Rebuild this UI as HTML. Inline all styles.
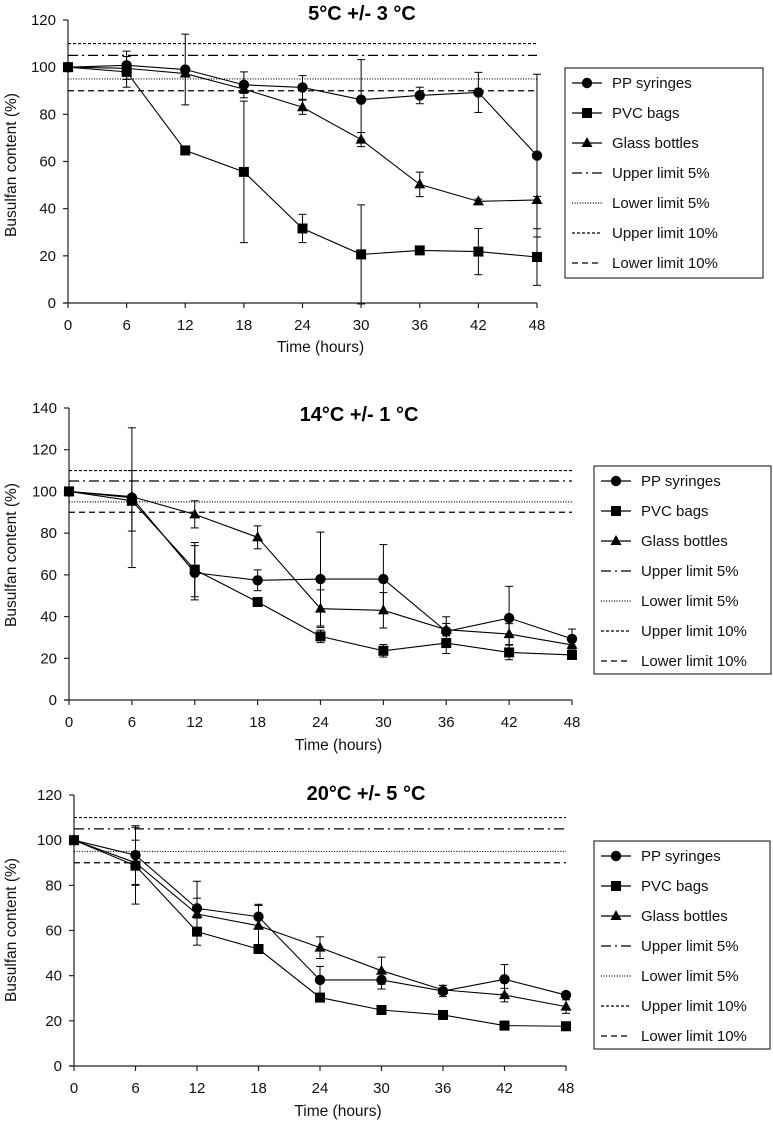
<!DOCTYPE html>
<html><head><meta charset="utf-8"><style>
html,body{margin:0;padding:0;background:#fff;}
svg{display:block;font-family:"Liberation Sans",sans-serif;}
</style></head><body>
<svg id="fig" width="773" height="1121" viewBox="0 0 773 1121" xmlns="http://www.w3.org/2000/svg"></svg>
<script>
const hours = [0,6,12,18,24,30,36,42,48];
const seriesNames = ["PP syringes","PVC bags","Glass bottles"];
const limitNames = ["Upper limit 5%","Lower limit 5%","Upper limit 10%","Lower limit 10%"];
const limitValues = [105,95,110,90];
const titles = ["5°C +/- 3 °C","14°C +/- 1 °C","20°C +/- 5 °C"];
const yMaxes = [120,140,120];

const c1PP = [100,100.8,99,92.5,91.4,86.2,88,89.3,62.5];
const c1PPErr = [0,6,15,5.5,5,17,3.5,8.5,34.5];
const c1PVC = [100,98,64.7,55.6,31.6,20.6,22.3,21.8,19.5];
const c1PVCErr = [0,6.5,0.8,30,6,21,0.8,9.8,12];
const c1Glass = [100,99.5,97.3,90.7,83,69.3,50.3,43.1,43.7];
const c1GlassErr = [0,1.5,1,1.8,3,3,5.2,1,1.5];

const c2PP = [100,97,61,57.4,58,58,32.9,39.3,29.3];
const c2PPErr = [0,33.5,13,5,22.5,16.5,7,15.2,4.7];
const c2PVC = [100,95.5,62.5,47,30.5,23.6,27.3,22.8,21.6];
const c2PVCErr = [0,14.5,13,1,3,3,5,3.5,1];
const c2Glass = [100,97.5,89,78,43.8,43,33.7,31.6,26.4];
const c2GlassErr = [0,1,6.5,5.5,9,8.5,3,5,2];

const c3PP = [100,93.4,69.8,66.1,38.1,38.1,33.2,38.4,31.4];
const c3PPErr = [0,13,12,5.5,6,4,2.5,6.5,1];
const c3PVC = [100,88.7,59.5,51.8,30.3,24.8,22.6,17.9,17.6];
const c3PVCErr = [0,17,6,1,1,1,1,1,1];
const c3Glass = [100,90,67.3,62.1,52.4,42.2,33.7,31.4,26.3];
const c3GlassErr = [0,10,7,9,4.8,6,2,3,3];

const SVGNS="http://www.w3.org/2000/svg";
const svg=document.getElementById('fig');
function mk(tag,attrs,parent){const e=document.createElementNS(SVGNS,tag);for(const k in attrs)e.setAttribute(k,attrs[k]);(parent||svg).appendChild(e);return e;}

const layouts=[
 {x0:68,x48:537,y0:303,yTop:20,tx:362,ty:20,timeY:352,ylx:11,yly:165,lg:[565,68,198,210]},
 {x0:69,x48:572,y0:700,yTop:408,tx:359,ty:421,timeY:750,ylx:11,yly:555,lg:[594,466,177,208]},
 {x0:74,x48:566,y0:1066,yTop:795,tx:366,ty:800,timeY:1116,ylx:11,yly:930,lg:[594,841,176,208]}
];
const data=[[c1PP,c1PVC,c1Glass],[c2PP,c2PVC,c2Glass],[c3PP,c3PVC,c3Glass]];
const errs=[[c1PPErr,c1PVCErr,c1GlassErr],[c2PPErr,c2PVCErr,c2GlassErr],[c3PPErr,c3PVCErr,c3GlassErr]];
const dashes=["10,4,2,4","1,1.6","3,2","6,4"];
const mShapes=["circle","square","triangle"];

function marker(g,shape,x,y){
 let e;
 if(shape==="circle") e=mk('circle',{cx:x,cy:y,r:5.2,fill:'#000'},g);
 else if(shape==="square") e=mk('rect',{x:x-5,y:y-5,width:10,height:10,fill:'#000'},g);
 else e=mk('polygon',{points:`${x},${y-6} ${x+5.5},${y+4} ${x-5.5},${y+4}`,fill:'#000'},g);
 return e;
}

layouts.forEach((L,ci)=>{
 const g=mk('g',{});  
 const yMax=yMaxes[ci];
 const xs=h=>L.x0+(L.x48-L.x0)*h/48;
 const ys=v=>L.y0-(L.y0-L.yTop)*v/yMax;
 const t=mk('text',{x:L.tx,y:L.ty,'text-anchor':'middle','font-size':20,'font-weight':'bold'},g);
 t.textContent=titles[ci];  
 const ax=mk('g',{stroke:'#222','stroke-width':1.2},g);
  
 mk('line',{x1:L.x0,y1:L.y0,x2:L.x0,y2:L.yTop},ax);
 mk('line',{x1:L.x0-5,y1:L.y0,x2:L.x48,y2:L.y0},ax);
 for(let v=0;v<=yMax;v+=20){
  mk('line',{x1:L.x0-5,y1:ys(v),x2:L.x0,y2:ys(v)},ax);
  const tl=mk('text',{x:L.x0-12,y:ys(v)+5,'text-anchor':'end','font-size':15,fill:'#111'},g);
  tl.textContent=v;  
 }
 hours.forEach(h=>{
  mk('line',{x1:xs(h),y1:L.y0,x2:xs(h),y2:L.y0+5},ax);
  const tl=mk('text',{x:xs(h),y:L.y0+27,'text-anchor':'middle','font-size':15,fill:'#111'},g);
  tl.textContent=h;  
 });
 const xt=mk('text',{x:(L.x0+L.x48)/2+18,y:L.timeY,'text-anchor':'middle','font-size':15.5,fill:'#111'},g);
 xt.textContent='Time (hours)';  
 const yt=mk('text',{x:0,y:0,'text-anchor':'middle','font-size':15.5,fill:'#111',transform:`translate(${L.ylx+5},${L.yly}) rotate(-90)`},g);
 yt.textContent=ci===2?'Busulfan content (%)':'Busulfan content  (%)';  
 limitValues.forEach((v,i)=>{
  const l=mk('line',{x1:L.x0,y1:ys(v),x2:L.x48,y2:ys(v),stroke:'#000','stroke-width':1.2,'stroke-dasharray':dashes[i]},g);
   
 });
 data[ci].forEach((vals,si)=>{
  const sg=mk('g',{},g);  
  const pts=vals.map((v,i)=>xs(hours[i])+','+ys(v)).join(' ');
  mk('polyline',{points:pts,fill:'none',stroke:'#000','stroke-width':1.1},sg);
  vals.forEach((v,i)=>{
   const e=errs[ci][si][i];
   if(e>0){
    const x=xs(hours[i]),a=ys(v+e),b=ys(v-e);
    mk('line',{x1:x,y1:a,x2:x,y2:b,stroke:'#000','stroke-width':1},sg);
    mk('line',{x1:x-4,y1:a,x2:x+4,y2:a,stroke:'#000','stroke-width':1},sg);
    mk('line',{x1:x-4,y1:b,x2:x+4,y2:b,stroke:'#000','stroke-width':1},sg);
   }
   const m=marker(sg,mShapes[si],xs(hours[i]),ys(v));
    
  });
 });
 const [lx,ly,lw,lh]=L.lg;
 const lg=mk('g',{},g);  
 mk('rect',{x:lx,y:ly,width:lw,height:lh,fill:'#fff',stroke:'#333','stroke-width':1.2},lg);
 const names=seriesNames.concat(limitNames);
 names.forEach((n,i)=>{
  const yy=ly+15+i*30;
  const eg=mk('g',{},lg);  
  if(i<3){
   mk('line',{x1:lx+7,y1:yy,x2:lx+37,y2:yy,stroke:'#000','stroke-width':1.2},eg);
   marker(eg,mShapes[i],lx+22,yy);
  } else {
   mk('line',{x1:lx+7,y1:yy,x2:lx+37,y2:yy,stroke:'#000','stroke-width':1.2,'stroke-dasharray':dashes[i-3]},eg);
  }
  const tx=mk('text',{x:lx+47,y:yy+5,'font-size':15,fill:'#111'},eg);
  tx.textContent=n;
 });
});
</script>
</body></html>
